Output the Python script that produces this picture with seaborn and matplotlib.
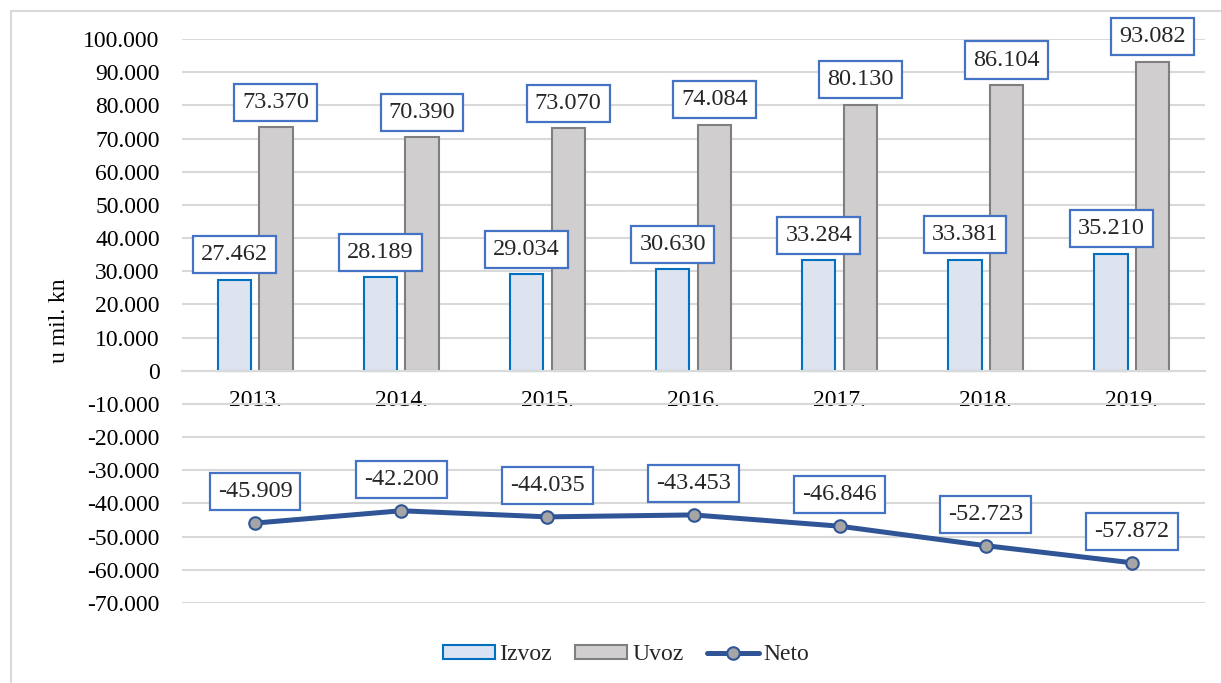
import numpy as np
import pandas as pd
import seaborn as sns
import matplotlib.pyplot as plt
from matplotlib.patches import Patch
from matplotlib.lines import Line2D
from matplotlib.ticker import FuncFormatter, MultipleLocator

# data (u mil. kn)
years = ["2013.", "2014.", "2015.", "2016.", "2017.", "2018.", "2019."]
izvoz = [27462, 28189, 29034, 30630, 33284, 33381, 35210]
uvoz = [73370, 70390, 73070, 74084, 80130, 86104, 93082]
neto = [-45909, -42200, -44035, -43453, -46846, -52723, -57872]


def fmt(v):
    # dot as thousands separator, plain hyphen for minus
    return f"{int(round(v)):,}".replace(",", ".")


sns.set_theme(style="whitegrid")
plt.rcParams["font.family"] = ["Liberation Serif", "DejaVu Serif"]
plt.rcParams["font.size"] = 17

fig = plt.figure(figsize=(12.21, 6.83), dpi=100)
ax = fig.add_axes([182 / 1221, 1 - 603 / 683, (1205 - 182) / 1221, (603 - 39) / 683])

df = pd.DataFrame({
    "year": years * 2,
    "value": izvoz + uvoz,
    "serija": ["Izvoz"] * len(years) + ["Uvoz"] * len(years),
})

sns.barplot(data=df, x="year", y="value", hue="serija",
            palette={"Izvoz": "#DAE3F3", "Uvoz": "#D0CECE"},
            width=0.57, gap=0.2, legend=False, ax=ax)

edge_cols = ["#0070C0", "#7F7F7F"]
for cont, ec in zip(ax.containers, edge_cols):
    for rect in cont:
        rect.set_edgecolor(ec)
        rect.set_linewidth(1.5)

sns.pointplot(x=years, y=neto, color="#2F5597", markers="o", linestyles="-",
              errorbar=None, linewidth=3.6, markersize=9, ax=ax)
line = ax.lines[-1]
line.set_markerfacecolor("#A5A5A5")
line.set_markeredgecolor("#2F5597")
line.set_markeredgewidth(1.5)
line.set_zorder(4)

box = dict(boxstyle="square,pad=0.33", fc="white", ec="#4472C4", lw=1.6)

# bar labels
for cont in ax.containers:
    for rect in cont:
        xc = rect.get_x() + rect.get_width() / 2
        h = rect.get_height()
        ax.annotate(fmt(h), (xc, h), xytext=(0, 10.5), textcoords="offset points",
                    ha="center", va="bottom", fontsize=17.5, bbox=box, zorder=5)

# line labels
for xc, v in zip(line.get_xdata(), line.get_ydata()):
    ax.annotate(fmt(v), (xc, v), xytext=(0, 15), textcoords="offset points",
                ha="center", va="bottom", fontsize=17.5, bbox=box, zorder=5)

ax.set_ylim(-70000, 100000)
ax.set_xlim(-0.5, len(years) - 0.5)
ax.yaxis.set_major_locator(MultipleLocator(10000))
ax.yaxis.set_major_formatter(FuncFormatter(lambda v, p: fmt(v)))
ax.grid(axis="y", color="#D9D9D9", linewidth=1.5)
ax.grid(axis="x", visible=False)
ax.set_axisbelow(True)

for s in ["top", "right", "left"]:
    ax.spines[s].set_visible(False)
ax.spines["bottom"].set_position(("data", 0))
ax.spines["bottom"].set_color("#D9D9D9")
ax.spines["bottom"].set_linewidth(1.5)

ax.tick_params(axis="x", length=0, pad=14, labelsize=17, colors="black")
ax.tick_params(axis="y", length=0, pad=16, labelsize=17, colors="black")
ax.set_xlabel("")
ax.set_ylabel("u mil. kn", fontsize=17, labelpad=10, color="black")

# legend
handles = [
    Patch(facecolor="#DAE3F3", edgecolor="#0070C0", linewidth=1.5, label="Izvoz"),
    Patch(facecolor="#D0CECE", edgecolor="#7F7F7F", linewidth=1.5, label="Uvoz"),
    Line2D([0], [0], color="#2F5597", linewidth=3.6, marker="o", markersize=9,
           markerfacecolor="#A5A5A5", markeredgecolor="#2F5597",
           markeredgewidth=1.5, label="Neto"),
]
fig.legend(handles=handles, loc="center", bbox_to_anchor=(626 / 1221, 1 - 655 / 683),
           ncol=3, frameon=False, fontsize=17, handlelength=2.2,
           handleheight=0.5, handletextpad=0.2, columnspacing=1.0)

# chart-area border (left and top visible)
fig.add_artist(Line2D([11 / 1221, 11 / 1221], [0, 1 - 11 / 683],
                      transform=fig.transFigure, color="#D9D9D9", linewidth=1.5))
fig.add_artist(Line2D([11 / 1221, 1], [1 - 11 / 683, 1 - 11 / 683],
                      transform=fig.transFigure, color="#D9D9D9", linewidth=1.5))

fig.savefig("out.png", dpi=100)
